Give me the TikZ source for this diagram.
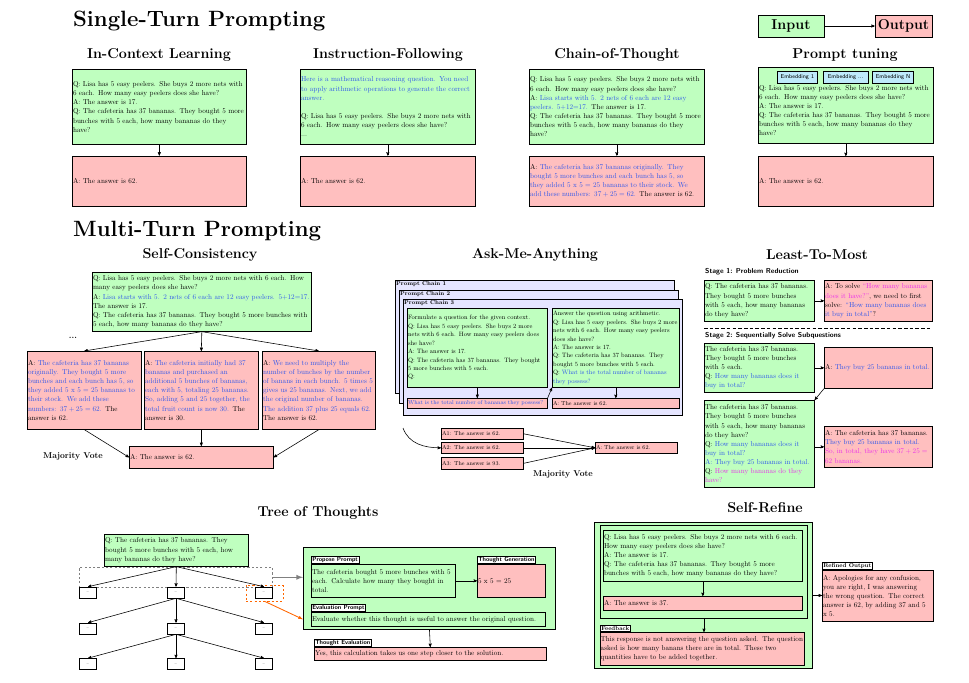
\documentclass[tikz,border=0pt]{standalone}
\usepackage{xcolor}
\usepackage{tikz}
\usetikzlibrary{positioning,calc}
\usetikzlibrary{arrows,shadows}

\definecolor{qblue}{RGB}{45,85,235}
\definecolor{qmag}{RGB}{235,45,235}
\definecolor{hot}{RGB}{255,102,0}
\newcommand{\qb}[1]{\textcolor{qblue}{#1}}
\newcommand{\qm}[1]{\textcolor{qmag}{#1}}
\hyphenpenalty=10000
\exhyphenpenalty=10000

\tikzset{
  basic/.style  = {draw, line width=0.9pt, inner sep=1.5pt, inner xsep=1pt, align=left,
                   font=\fontsize{10}{12.8}\selectfont,
                   drop shadow={shadow xshift=1.1pt, shadow yshift=-1.1pt, opacity=.55}},
  dims/.style 2 args = {minimum width=#1*1.4pt, text width=#1*1.4pt-2pt,
                   minimum height=#2*1.4pt, anchor=north west},
  inp/.style    = {basic, fill=green!25},
  outp/.style   = {basic, fill=red!25},
  heading/.style = {anchor=west, inner sep=0pt, font=\fontsize{31}{36}\selectfont\bfseries},
  title/.style  = {inner sep=0pt, font=\fontsize{20}{24}\selectfont\bfseries},
  legendbox/.style = {basic, inner sep=0pt, align=center,
                   font=\fontsize{20}{24}\selectfont\bfseries},
  vote/.style   = {inner sep=0pt, font=\fontsize{12}{14}\selectfont\bfseries},
  stage/.style  = {anchor=west, inner sep=0pt, font=\fontsize{10}{11}\selectfont\sffamily\bfseries},
  tag/.style    = {draw, fill=white, line width=0.9pt, inner sep=1.3pt, anchor=south west,
                   font=\fontsize{8.5}{10}\selectfont\sffamily\bfseries},
  rtag/.style   = {tag, font=\fontsize{8}{9}\selectfont\bfseries},
  chainbox/.style = {basic, fill=blue!10,
                   label={[anchor=north west, inner sep=1.5pt,
                          font=\fontsize{8}{9}\selectfont\bfseries]north west:#1}},
  chaintext/.style = {font=\fontsize{8.8}{11.8}\selectfont},
  atext/.style  = {font=\fontsize{8}{9}\selectfont},
  emb/.style    = {draw, line width=0.9pt, fill=cyan!25, inner sep=0pt,
                   minimum height=12*1.4pt, font=\fontsize{8}{9}\selectfont\sffamily},
  thought/.style = {draw, line width=0.9pt, fill=white, inner sep=0pt,
                   minimum width=17*1.4pt, minimum height=11*1.4pt,
                   font=\fontsize{5}{6}\selectfont},
  post/.style   = {->, >=stealth', thick},
}

\begin{document}
\begin{tikzpicture}[x=1.4pt, y=-1.4pt]
\useasboundingbox (0,0) rectangle (969,683);

\node[heading] (single) at (73,21) {Single-Turn Prompting};
\node[heading] (multi) at (73,231) {Multi-Turn Prompting};

% legend
\node[legendbox, fill=green!25, minimum width=66*1.4pt, minimum height=22*1.4pt] (leg-in) at (791,26) {Input};
\node[legendbox, fill=red!25, minimum width=57*1.4pt, minimum height=22*1.4pt] (leg-out) at (903.5,26) {Output};
\draw[post] (leg-in) -- (leg-out);

% in-context learning
\node[title] (icl) at (159,55) {In-Context Learning};
\node[inp, dims={174}{75}] (icl-q) at (72,69)
  {Q: Lisa has 5 easy peelers. She buys 2 more nets with\\
   6 each. How many easy peelers does she have?\\
   A: The answer is 17.\\
   Q: The cafeteria has 37 bananas. They bought 5 more\\
   bunches with 5 each, how many bananas do they\\
   have?};
\node[outp, dims={174}{50}, below=15.4pt of icl-q] (icl-a) {A: The answer is 62.};
\draw[post] (icl-q) -- (icl-a);

% instruction following
\node[title] (if) at (388,55) {Instruction-Following};
\node[inp, dims={175}{75}] (if-q) at (300,69)
  {\qb{Here is a mathematical reasoning question. You need\\
   to apply arithmetic operations to generate the correct\\
   answer.}\\[12.8pt]
   Q: Lisa has 5 easy peelers. She buys 2 more nets with\\
   6 each. How many easy peelers does she have?\\
   ...};
\node[outp, dims={175}{50}, below=15.4pt of if-q] (if-a) {A: The answer is 62.};
\draw[post] (if-q) -- (if-a);

% chain of thought
\node[title] (cot) at (617,55) {Chain-of-Thought};
\node[inp, dims={175}{75}] (cot-q) at (529,69)
  {Q: Lisa has 5 easy peelers. She buys 2 more nets with\\
   6 each. How many easy peelers does she have?\\
   A: \qb{Lisa starts with 5. 2 nets of 6 each are 12 easy\\
   peelers. 5+12=17.} The answer is 17.\\
   Q: The cafeteria has 37 bananas. They bought 5 more\\
   bunches with 5 each, how many bananas do they\\
   have?};
\node[outp, dims={175}{50}, below=15.4pt of cot-q] (cot-a)
  {A: \qb{ The cafeteria has 37 bananas originally. They\\
   bought 5 more bunches and each bunch has 5, so\\
   they added 5 x 5 = 25 bananas to their stock. We\\
   add these numbers: $37+25=62$.} The answer is 62.};
\draw[post] (cot-q) -- (cot-a);

% prompt tuning
\node[title] (pt) at (845,55) {Prompt tuning};
\node[inp, dims={175}{76}] (pt-q) at (758,67)
  {\mbox{}\\[9pt]
   Q: Lisa has 5 easy peelers. She buys 2 more nets with\\
   6 each. How many easy peelers does she have?\\
   A: The answer is 17.\\
   Q: The cafeteria has 37 bananas. They bought 5 more\\
   bunches with 5 each, how many bananas do they\\
   have?};
\node[emb, minimum width=45*1.4pt] (emb-2) at (845.5,77) {Embedding ...};
\node[emb, minimum width=40*1.4pt, left=7pt of emb-2] (emb-1) {Embedding 1};
\node[emb, minimum width=41*1.4pt, right=5.6pt of emb-2] (emb-n) {Embedding N};
\node[outp, dims={175}{50}] (pt-a) at (758,156) {A: The answer is 62.};
\draw[post] (pt-q) -- (pt-a);

% self-consistency
\node[title] (sc) at (200,255) {Self-Consistency};
\node[inp, dims={219}{59}] (sc-q) at (92,272)
  {Q: Lisa has 5 easy peelers. She buys 2 more nets with 6 each. How\\
   many easy peelers does she have?\\
   A: \qb{Lisa starts with 5. 2 nets of 6 each are 12 easy peelers. 5+12=17.}\\
   The answer is 17.\\
   Q: The cafeteria has 37 bananas. They bought 5 more bunches with\\
   5 each, how many bananas do they have?};
\node[outp, dims={114}{78}] (sc-a1) at (27,351)
  {A: \qb{ The cafeteria has 37 bananas\\
   originally. They bought 5 more\\
   bunches and each bunch has 5, so\\
   they added 5 x 5 = 25 bananas to\\
   their stock. We add these\\
   numbers: $37+25=62$.} The\\
   answer is 62.};
\node[outp, dims={114}{78}] (sc-a2) at (144,351)
  {A: \qb{ The cafeteria initially had 37\\
   bananas and purchased an\\
   additional 5 bunches of bananas,\\
   each with 5, totaling 25 bananas.\\
   So, adding 5 and 25 together, the\\
   total fruit count is now 30.} The\\
   answer is 30.};
\node[outp, dims={113}{78}] (sc-a3) at (262,351)
  {A: \qb{ We need to multiply the\\
   number of bunches by the number\\
   of banans in each bunch. 5 times 5\\
   gives us 25 bananas. Next, we add\\
   the original number of bananas.\\
   The addition 37 plus 25 equals 62.}\\
   The answer is 62.};
\node[outp, dims={144}{22}] (sc-f) at (129,446) {A: The answer is 62.};
\node[vote] (sc-dots) at (73,338) {...};
\node[vote] (sc-mv) at (73,456) {Majority Vote};
\foreach \i in {1,2,3}
  \draw[post] (sc-q.south) -- (sc-a\i.north);
\draw[post] (sc-a1.south) -- (sc-f.west);
\draw[post] (sc-a2.south) -- (sc-f.north);
\draw[post] (sc-a3.south) -- (sc-f.east);

% ask me anything
\node[title] (ama) at (535,255) {Ask-Me-Anything};
\node[chainbox={Prompt Chain 1}, dims={279}{113}] (ama-c1) at (395,280) {};
\node[chainbox={Prompt Chain 2}, dims={279}{113}] (ama-c2) at (399,290) {};
\node[chainbox={Prompt Chain 3}, dims={279}{116}] (ama-c3) at (403,299) {};
\node[inp, chaintext, dims={140}{79}] (ama-q1) at (407,308)
  {Formulate a question for the given context.\\
   Q: Lisa has 5 easy peelers. She buys 2 more\\
   nets with 6 each. How many easy peelers does\\
   she have?\\
   A: The answer is 17.\\
   Q: The cafeteria has 37 bananas. They bought\\
   5 more bunches with 5 each.\\
   Q:};
\node[inp, chaintext, dims={127}{79}] (ama-q2) at (552,308)
  {Answer the question using arithmetic.\\
   Q: Lisa has 5 easy peelers. She buys 2 more\\
   nets with 6 each. How many easy peelers\\
   does she have?\\
   A: The answer is 17.\\
   Q: The cafeteria has 37 bananas. They\\
   bought 5 more bunches with 5 each.\\
   Q: \qb{What is the total number of bananas\\
   they possess?}};
\node[outp, atext, dims={140}{10}] (ama-p1) at (407,398) {\qb{What is the total number of bananas they possess?}};
\node[outp, atext, dims={127}{10}] (ama-p2) at (552,398) {A: The answer is 62.};
\draw[post] (ama-q1) -- (ama-p1);
\draw[post] (ama-p1.north east) -- (ama-q2.south west);
\draw[post] (ama-q2) -- (ama-p2);
\node[outp, atext, dims={82}{11}] (ama-a1) at (441,428) {A1: The answer is 62.};
\node[outp, atext, dims={82}{11}] (ama-a2) at (441,442) {A2: The answer is 62.};
\node[outp, atext, dims={82}{12}] (ama-a3) at (441,457) {A3: The answer is 93.};
\node[outp, atext, dims={82}{11}] (ama-f) at (595,442) {A: The answer is 62.};
\coordinate (ama-from) at (403,428);
\draw[post] (ama-from) to[out=-70, in=180] (ama-a2.west);
\foreach \i in {1,2,3}
  \draw[post] (ama-a\i.east) -- (ama-f.west);
\node[vote] (ama-mv) at (563,474) {Majority Vote};

% least to most
\node[title] (l2m) at (817,255) {Least-To-Most};
\node[stage] (l2m-s1) at (705,272) {Stage 1: Problem Reduction};
\node[inp, dims={110}{41}] (l2m-q1) at (704,280)
  {Q: The cafeteria has 37 bananas.\\
   They bought 5 more bunches\\
   with 5 each, how many bananas\\
   do they have?};
\node[outp, dims={108}{41}] (l2m-a1) at (824,280)
  {A: To solve \qm{``How many bananas\\
   does it have?''}, we need to first\\
   solve: \qb{``How many bananas does\\
   it buy in total''}?};
\draw[post] (l2m-q1) -- (l2m-a1);
\coordinate (l2m-cut-l) at (704,328);
\coordinate (l2m-cut-r) at (932,328);
\draw[thick, dash pattern=on 5pt off 3pt] (l2m-cut-l) -- (l2m-cut-r);
\node[stage] (l2m-s2) at (705,336) {Stage 2: Sequentially Solve Subquestions};
\node[inp, dims={110}{49}] (l2m-q2) at (704,343)
  {The cafeteria has 37 bananas.\\
   They bought 5 more bunches\\
   with 5 each.\\
   Q: \qb{How many bananas does it\\
   buy in total?}};
\node[outp, dims={108}{41}] (l2m-a2) at (824,347) {A: \qb{They buy 25 bananas in total.}};
\node[inp, dims={110}{87}] (l2m-q3) at (704,400)
  {The cafeteria has 37 bananas.\\
   They bought 5 more bunches\\
   with 5 each, how many bananas\\
   do they have?\\
   Q: \qb{How many bananas does it\\
   buy in total?}\\
   \qb{A: They buy 25 bananas in total.}\\
   Q: \qm{How many bananas do they\\
   have?}};
\node[outp, dims={108}{41}] (l2m-a3) at (824,426)
  {A: The cafeteria has 37 bananas.\\
   \qb{They buy 25 bananas in total.}\\
   \qm{So, in total, they have $37+25={}$\\
   62 bananas.}};
\draw[post] (l2m-q2) -- (l2m-a2);
\draw[post] (l2m-a2.south west) -- (l2m-q3.north east);
\draw[post] (l2m-q3.east |- l2m-a3.west) -- (l2m-a3.west);

% tree of thoughts
\node[title] (tot) at (318,513) {Tree of Thoughts};
\node[inp, dims={144}{32}] (tot-q) at (104,534)
  {Q: The cafeteria has 37 bananas. They\\
   bought 5 more bunches with 5 each, how\\
   many bananas do they have?};
\node[draw=gray, dashed, thick, minimum width=193*1.4pt, minimum height=20*1.4pt,
      inner sep=0pt, anchor=north west] (tot-sel) at (79,567) {};
\foreach \row/\yy in {1/592.5, 2/628.5, 3/664}
  \foreach \col/\xx in {1/88, 2/176, 3/264}
    \node[thought] (t\row\col) at (\xx,\yy) {\ldots};
\node[draw=hot, dashed, thick, minimum width=37*1.4pt, minimum height=16*1.4pt,
      inner sep=0pt] (tot-pick) at (264.5,593) {};
\foreach \col in {1,2,3} {
  \draw[post] (tot-q.south) -- (t1\col.north);
  \draw[post] (t12.south) -- (t2\col.north);
  \draw[post] (t22.south) -- (t3\col.north);
}
\node[inp, dims={252}{82}, line width=1.3pt] (tot-box) at (303,547) {};
\node[inp, dims={144}{33}, label={[tag]north west:Propose Prompt}] (tot-pp) at (311,564)
  {The cafeteria bought 5 more bunches with 5\\
   each. Calculate how many they bought in\\
   total.};
\node[outp, dims={68}{33}, label={[tag]north west:Thought Generation}] (tot-tg) at (477,564)
  {5 x 5 = 25};
\node[inp, dims={234}{14}, label={[tag]north west:Evaluation Prompt}] (tot-ep) at (311,612)
  {Evaluate whether this thought is useful to answer the original question.};
\node[outp, dims={232}{13}, label={[tag]north west:Thought Evaluation}] (tot-te) at (314,647)
  {Yes, this calculation takes us one step closer to the solution.};
\draw[post] (tot-pp) -- (tot-tg);
\draw[post] (tot-box.south) -- (tot-te.north);
\draw[->, >=latex, line width=2.2pt, gray] (tot-sel.east) -- (tot-sel.east -| tot-box.west);
\draw[->, >=latex, line width=1.2pt, hot] (tot-pick.south) -- (tot-ep.west -| tot-box.west);

% self-refine
\node[title] (sr) at (765,508) {Self-Refine};
\node[inp, dims={218}{146}, line width=1.3pt] (sr-out) at (594,522) {};
\node[inp, dims={207}{93}, line width=1.3pt] (sr-in) at (600,525) {};
\node[inp, dims={199}{51}] (sr-q) at (603,530)
  {Q: Lisa has 5 easy peelers. She buys 2 more nets with 6 each.\\
   How many easy peelers does she have?\\
   A: The answer is 17.\\
   Q: The cafeteria has 37 bananas. They bought 5 more\\
   bunches with 5 each, how many bananas do they have?};
\node[outp, dims={199}{14}] (sr-a) at (603,596) {A: The answer is 37.};
\node[outp, dims={204}{33}, inner xsep=0.5pt, text width=284.6pt,
      label={[rtag]north west:Feedback}] (sr-fb) at (600,632)
  {This response is not answering the question asked. The question\\
   asked is how many banans there are in total. These two\\
   quantities have to be added together.};
\node[outp, dims={111}{51}, label={[rtag]north west:Refined Output}] (sr-ro) at (822,570)
  {A: Apologies for any confusion,\\
   you are right, I was answering\\
   the wrong question. The correct\\
   answer is 62, by adding 37 and 5\\
   x 5.};
\draw[post] (sr-q) -- (sr-a);
\draw[post] (sr-in.south) -- (sr-in.south |- sr-fb.north);
\draw[post] (sr-out.east) -- (sr-out.east -| sr-ro.west);
\end{tikzpicture}
\end{document}
